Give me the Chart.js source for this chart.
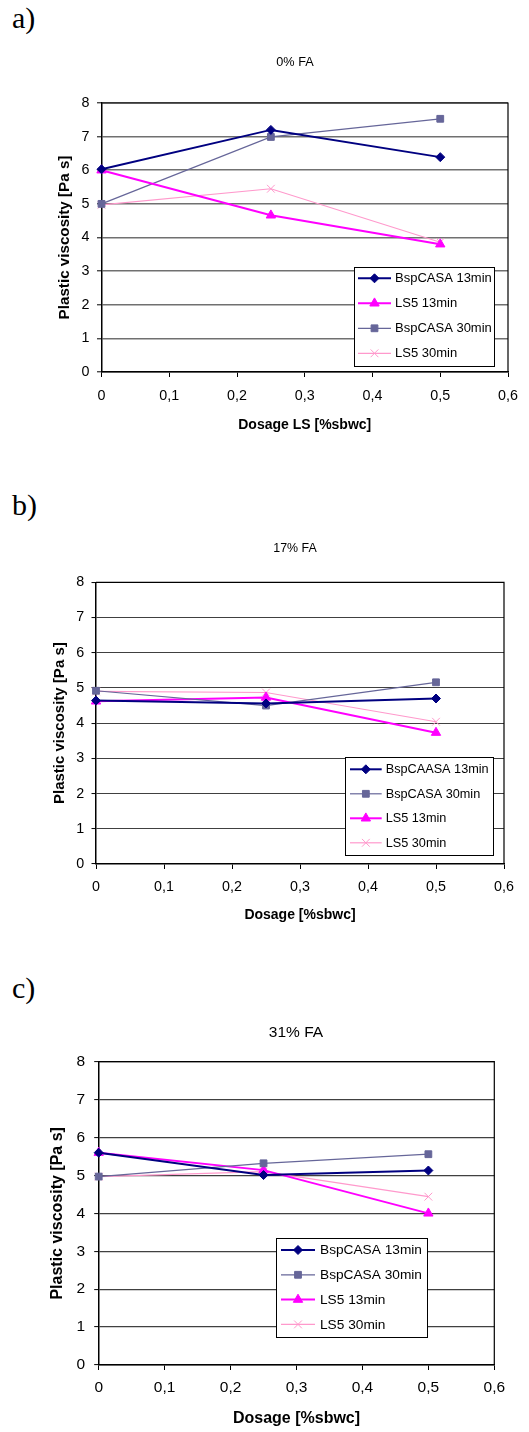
<!DOCTYPE html>
<html><head><meta charset="utf-8">
<script src="https://cdn.jsdelivr.net/npm/chart.js@4/dist/chart.umd.min.js"></script>
<style>
html,body{margin:0;padding:0;background:#fff;}
body{width:529px;height:1432px;position:relative;overflow:hidden;}
.lbl{position:absolute;left:12px;font-family:"Liberation Serif","Times New Roman",serif;font-size:30px;line-height:30px;color:#000;}
canvas{position:absolute;left:0;}
</style></head><body>
<div class="lbl" style="top:3px">a)</div>
<div class="lbl" style="top:490px">b)</div>
<div class="lbl" style="top:973px">c)</div>
<canvas id="ca" width="529" height="400" style="top:40px;width:529px;height:400px"></canvas>
<canvas id="cb" width="529" height="420" style="top:510px;width:529px;height:420px"></canvas>
<canvas id="cc" width="529" height="432" style="top:1000px;width:529px;height:432px"></canvas>
<script>
// ---- data ----
const dosage = [0, 0.25, 0.5];
const yTickValues = [0, 1, 2, 3, 4, 5, 6, 7, 8];
const xTickValues = [0, 0.1, 0.2, 0.3, 0.4, 0.5, 0.6];

const titleA = '0% FA';
const xTitleA = 'Dosage LS [%sbwc]';
const labelsA = ['BspCASA 13min', 'LS5 13min', 'BspCASA 30min', 'LS5 30min'];
const kindsA = ['bsp13', 'ls13', 'bsp30', 'ls30'];
const a_bsp13 = [6.03, 7.2, 6.39];
const a_ls13 = [6.0, 4.66, 3.8];
const a_bsp30 = [5.0, 6.99, 7.53];
const a_ls30 = [4.97, 5.45, 3.86];

const titleB = '17% FA';
const xTitleB = 'Dosage [%sbwc]';
const labelsB = ['BspCAASA 13min', 'BspCASA 30min', 'LS5 13min', 'LS5 30min'];
const kindsB = ['bsp13', 'bsp30', 'ls13', 'ls30'];
const b_bsp13 = [4.64, 4.56, 4.70];
const b_bsp30 = [4.92, 4.50, 5.16];
const b_ls13 = [4.62, 4.73, 3.73];
const b_ls30 = [4.90, 4.87, 4.04];

const titleC = '31% FA';
const xTitleC = 'Dosage [%sbwc]';
const labelsC = ['BspCASA 13min', 'BspCASA 30min', 'LS5 13min', 'LS5 30min'];
const kindsC = ['bsp13', 'bsp30', 'ls13', 'ls30'];
const c_bsp13 = [5.6, 5.01, 5.13];
const c_bsp30 = [4.97, 5.32, 5.56];
const c_ls13 = [5.6, 5.14, 4.0];
const c_ls30 = [4.97, 5.10, 4.44];

const yTitle = 'Plastic viscosity [Pa s]';

// ---- styles ----
const FONT = 'Arial, "Liberation Sans", sans-serif';
Chart.defaults.font.family = FONT;
Chart.defaults.color = '#000';

const STYLES = {
  bsp13: {color: '#000080', lw: 2, ps: 'rectRot', r: 4.5},
  ls13:  {color: '#FF00FF', lw: 2, ps: 'triangle', r: 5.4},
  bsp30: {color: '#666699', lw: 1.2, ps: 'rect', r: 4.8},
  ls30:  {color: '#FF99CC', lw: 1.2, ps: 'crossRot', r: 5.5}
};

function marker(ctx, style, r, x, y) {
  ctx.beginPath();
  if (style === 'rectRot') {
    ctx.moveTo(x, y - r); ctx.lineTo(x + r, y); ctx.lineTo(x, y + r); ctx.lineTo(x - r, y); ctx.closePath();
    ctx.fill(); ctx.stroke();
  } else if (style === 'triangle') {
    ctx.moveTo(x, y - r); ctx.lineTo(x + r * 0.866, y + r / 2); ctx.lineTo(x - r * 0.866, y + r / 2); ctx.closePath();
    ctx.fill(); ctx.stroke();
  } else if (style === 'rect') {
    const s = r * Math.SQRT1_2;
    ctx.rect(x - s, y - s, 2 * s, 2 * s); ctx.fill(); ctx.stroke();
  } else {
    const s = r * Math.SQRT1_2;
    ctx.moveTo(x - s, y - s); ctx.lineTo(x + s, y + s);
    ctx.moveTo(x + s, y - s); ctx.lineTo(x - s, y + s);
    ctx.stroke();
  }
}

const framePlugin = {
  id: 'frame',
  afterDraw(chart, args, o) {
    const ctx = chart.ctx, a = chart.chartArea;
    ctx.save();
    ctx.strokeStyle = '#000'; ctx.lineWidth = 1.2;
    ctx.beginPath();
    ctx.moveTo(a.left, a.top); ctx.lineTo(a.right, a.top); ctx.lineTo(a.right, a.bottom);
    ctx.stroke();
    ctx.fillStyle = '#000';
    ctx.font = o.titleSize + 'px ' + FONT;
    ctx.textAlign = 'center'; ctx.textBaseline = 'middle';
    ctx.fillText(o.title, o.titleX, o.titleY);
    const L = o.legend;
    ctx.fillStyle = '#fff';
    ctx.fillRect(L.x, L.y, L.w, L.h);
    ctx.strokeStyle = '#000'; ctx.lineWidth = 1;
    ctx.strokeRect(L.x + 0.5, L.y + 0.5, L.w, L.h);
    ctx.font = L.size + 'px ' + FONT;
    ctx.textAlign = 'left'; ctx.textBaseline = 'middle';
    chart.data.datasets.forEach((ds, i) => {
      const yy = L.row0 + i * L.step;
      ctx.strokeStyle = ds.borderColor; ctx.fillStyle = ds.backgroundColor;
      ctx.lineWidth = ds.borderWidth;
      ctx.beginPath(); ctx.moveTo(L.l1, yy); ctx.lineTo(L.l2, yy); ctx.stroke();
      ctx.lineWidth = 1;
      marker(ctx, ds.pointStyle, ds.pointRadius, (L.l1 + L.l2) / 2, yy);
      ctx.fillStyle = '#000';
      ctx.fillText(ds.label, L.tx, yy + 0.5);
    });
    ctx.restore();
  }
};

function fmtX(v) {
  const r = Math.round(v * 10) / 10;
  return r === 0 ? '0' : String(r).replace('.', ',');
}

function build(id, P) {
  const datasets = P.series.map((vals, i) => {
    const s = STYLES[P.kinds[i]];
    return {
      label: P.labels[i],
      data: dosage.map((x, j) => ({x: x, y: vals[j]})),
      borderColor: s.color, backgroundColor: s.color,
      borderWidth: s.lw, pointStyle: s.ps, pointRadius: s.r,
      pointBorderWidth: 1, pointHoverRadius: s.r,
      tension: 0, clip: false, fill: false
    };
  });
  return new Chart(document.getElementById(id), {
    type: 'line',
    data: {datasets: datasets},
    plugins: [framePlugin],
    options: {
      responsive: false, animation: false, devicePixelRatio: 1,
      layout: {padding: {top: P.padTop, right: P.padRight, left: 0, bottom: 0}},
      plugins: {
        legend: {display: false}, tooltip: {enabled: false}, title: {display: false},
        frame: {title: P.title, titleX: P.titleX, titleY: P.titleY, titleSize: P.titleSize, legend: P.legend}
      },
      scales: {
        x: {
          type: 'linear', min: 0, max: 0.6,
          afterBuildTicks: s => { s.ticks = xTickValues.map(v => ({value: v})); },
          ticks: {callback: v => fmtX(v), font: {size: P.tickSize}, color: '#000', padding: P.xTickPad, maxRotation: 0, autoSkip: false},
          grid: {display: true, drawOnChartArea: false, drawTicks: true, tickLength: 5, tickColor: '#000', color: '#000'},
          border: {display: true, color: '#000', width: 1.5},
          title: {display: true, text: P.xTitle, font: {size: P.xTitleSize, weight: 'bold'}, color: '#000', padding: {top: 0, bottom: P.xTitlePad}},
          afterFit: s => { s.height = P.xHeight; }
        },
        y: {
          type: 'linear', min: 0, max: 8,
          afterBuildTicks: s => { s.ticks = yTickValues.map(v => ({value: v})); },
          ticks: {font: {size: P.tickSize}, color: '#000', padding: P.yTickPad},
          grid: {display: true, color: P.gridColor, lineWidth: P.gridWidth, drawTicks: true, tickLength: 4.5, tickColor: '#000', tickWidth: 1},
          border: {display: true, color: '#000', width: 1.5},
          title: {display: true, text: yTitle, font: {size: P.yTitleSize, weight: 'bold'}, color: '#000', padding: {top: P.yTitlePad, bottom: 0}},
          afterFit: s => { s.width = P.yWidth; }
        }
      }
    }
  });
}

build('ca', {
  series: [a_bsp13, a_ls13, a_bsp30, a_ls30], kinds: kindsA, labels: labelsA,
  title: titleA, titleX: 295, titleY: 22, titleSize: 12.7,
  xTitle: xTitleA, xTitleSize: 14, xTitlePad: 6.6, xHeight: 68, xTickPad: 10.5,
  yTitleSize: 15.2, yTitlePad: 55.9, yWidth: 101.5, yTickPad: 7.5,
  tickSize: 14.3, gridColor: '#707070', gridWidth: 1.6,
  padTop: 63, padRight: 21,
  legend: {x: 354, y: 227, w: 140, h: 99, row0: 238.3, step: 25, l1: 358, l2: 391, tx: 395, size: 13}
});

build('cb', {
  series: [b_bsp13, b_bsp30, b_ls13, b_ls30], kinds: kindsB, labels: labelsB,
  title: titleB, titleX: 295, titleY: 39, titleSize: 12.4,
  xTitle: xTitleB, xTitleSize: 14, xTitlePad: 6.6, xHeight: 66, xTickPad: 9.5,
  yTitleSize: 15, yTitlePad: 51, yWidth: 96, yTickPad: 7.3,
  tickSize: 14.3, gridColor: '#404040', gridWidth: 1.1,
  padTop: 72.3, padRight: 25,
  legend: {x: 345, y: 247, w: 148, h: 98, row0: 259.3, step: 24.5, l1: 350, l2: 381.7, tx: 385.7, size: 12.7}
});

build('cc', {
  series: [c_bsp13, c_bsp30, c_ls13, c_ls30], kinds: kindsC, labels: labelsC,
  title: titleC, titleX: 296, titleY: 33, titleSize: 15.5,
  xTitle: xTitleC, xTitleSize: 16, xTitlePad: 3.4, xHeight: 67, xTickPad: 8.5,
  yTitleSize: 16, yTitlePad: 48.1, yWidth: 98.7, yTickPad: 9,
  tickSize: 15.5, gridColor: '#404040', gridWidth: 1.2,
  padTop: 61.7, padRight: 34.7,
  legend: {x: 276, y: 238, w: 151, h: 99, row0: 250, step: 24.8, l1: 281, l2: 315, tx: 320, size: 13.7}
});
</script>
</body></html>
